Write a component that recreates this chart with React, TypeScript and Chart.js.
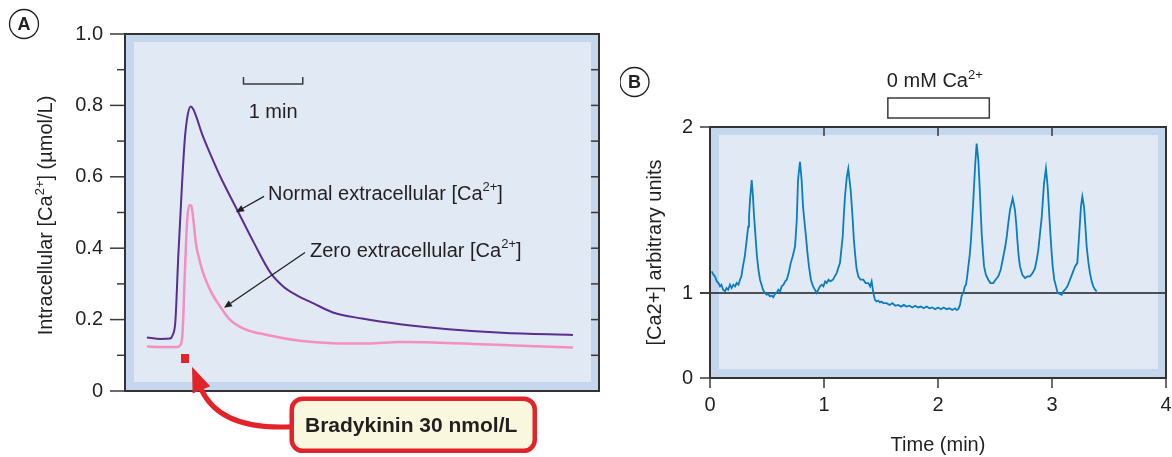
import React, { useEffect, useRef } from 'react';
import { Chart, registerables, LinearScale } from 'chart.js';

Chart.register(...registerables);

const FONT = "'Liberation Sans', Arial, Helvetica, sans-serif";
const TEXT = '#231f20';
const FRAME = '#333333';
const TICK = '#3a3a3a';
const BAND = '#c5d7ec';
const INNER = '#e0e9f4';
const PURPLE = '#5a2d8f';
const PINK = '#f48fbf';
const BLUE = '#0a7cc1';
const RED = '#e2232a';

// ---------- Panel A data (time in min, [Ca2+] in umol/L) ----------
const NORMAL_TIME = [0.37, 0.6, 0.76, 0.8, 0.85, 0.9, 0.96, 1.01, 1.06, 1.11, 1.15, 1.2, 1.3, 1.45, 1.61, 1.9, 2.17, 2.46, 2.67, 2.9, 3.2, 3.51, 4.0, 4.64, 5.46, 6.36, 7.56];
const NORMAL_CA = [0.15, 0.146, 0.147, 0.155, 0.195, 0.38, 0.572, 0.707, 0.775, 0.797, 0.79, 0.77, 0.72, 0.66, 0.6, 0.505, 0.417, 0.33, 0.293, 0.268, 0.244, 0.22, 0.203, 0.187, 0.173, 0.163, 0.157];
const ZERO_TIME = [0.37, 0.6, 0.88, 0.93, 0.97, 1.01, 1.05, 1.09, 1.12, 1.16, 1.2, 1.25, 1.32, 1.44, 1.6, 1.77, 2.0, 2.4, 2.95, 3.51, 4.1, 4.64, 5.2, 6.0, 6.8, 7.56];
const ZERO_CA = [0.125, 0.123, 0.123, 0.128, 0.16, 0.33, 0.48, 0.52, 0.518, 0.47, 0.41, 0.372, 0.33, 0.282, 0.238, 0.2, 0.175, 0.157, 0.141, 0.134, 0.133, 0.137, 0.136, 0.131, 0.126, 0.122];
const A_Y_MIN = 0;
const A_Y_MAX = 1;
const A_X_MIN = 0;
const A_X_MAX = 8;
const SCALE_BAR = { start: 2.0, length: 1, level: 0.86 };
const NORMAL_LABEL = { t: 2.414, v: 0.556 };
const NORMAL_ARROW = { from: [2.346, 0.545], to: [1.873, 0.501] };
const ZERO_LABEL = { t: 3.122, v: 0.396 };
const ZERO_ARROW = { from: [3.038, 0.388], to: [1.671, 0.233] };
const BRADY_MARK = { t: 1.013, v: 0.091 };
const BRADY_BOX = { left: 2.78, right: 6.95, top: -0.016, bottom: -0.173 };
const BRADY_TEXT = { t: 4.83, v: -0.095 };
const BRADY_ARROW = { start: [2.82, -0.1], ctrl: [1.6, -0.111], end: [1.283, 0.006], tip: [1.131, 0.068] };

// ---------- Panel B data (time in min, [Ca2+] arbitrary units) ----------
const B_TIME = [
  0.015, 0.03, 0.044, 0.06, 0.075, 0.088, 0.1, 0.115, 0.132, 0.145, 0.16, 0.175, 0.19, 0.205, 0.22, 0.234, 0.25, 0.263, 0.275, 0.289,
  0.305, 0.322, 0.335, 0.342, 0.351, 0.366, 0.377, 0.385, 0.395, 0.412, 0.425, 0.439, 0.452, 0.465, 0.48, 0.497, 0.51, 0.525, 0.541, 0.555,
  0.57, 0.585, 0.6, 0.615, 0.629, 0.645, 0.66, 0.673, 0.69, 0.708, 0.725, 0.746, 0.761, 0.772, 0.789, 0.804, 0.816, 0.83, 0.842, 0.855,
  0.868, 0.885, 0.904, 0.92, 0.936, 0.95, 0.965, 0.98, 0.995, 1.01, 1.024, 1.04, 1.055, 1.079, 1.095, 1.111, 1.125, 1.14, 1.152, 1.164,
  1.175, 1.184, 1.2, 1.213, 1.224, 1.234, 1.244, 1.252, 1.262, 1.272, 1.285, 1.301, 1.32, 1.345, 1.365, 1.389, 1.405, 1.418, 1.433, 1.447,
  1.46, 1.475, 1.491, 1.505, 1.52, 1.55, 1.575, 1.6, 1.625, 1.65, 1.675, 1.7, 1.725, 1.75, 1.775, 1.8, 1.825, 1.85, 1.875, 1.9,
  1.925, 1.95, 1.975, 2.0, 2.025, 2.05, 2.075, 2.1, 2.125, 2.15, 2.164, 2.178, 2.193, 2.208, 2.222, 2.235, 2.246, 2.256, 2.266, 2.277,
  2.287, 2.3, 2.31, 2.325, 2.339, 2.354, 2.368, 2.383, 2.395, 2.404, 2.42, 2.441, 2.46, 2.485, 2.505, 2.529, 2.55, 2.573, 2.59, 2.603,
  2.62, 2.632, 2.655, 2.675, 2.686, 2.696, 2.708, 2.719, 2.74, 2.763, 2.785, 2.807, 2.83, 2.851, 2.866, 2.88, 2.895, 2.91, 2.93, 2.947,
  2.962, 2.972, 2.982, 2.995, 3.006, 3.02, 3.035, 3.05, 3.07, 3.085, 3.1, 3.114, 3.135, 3.158, 3.18, 3.202, 3.222, 3.239, 3.254, 3.266,
  3.281, 3.293, 3.304, 3.32, 3.333, 3.348, 3.362, 3.378, 3.392,
];
const B_SIGNAL = [
  1.13, 1.11, 1.1, 1.07, 1.06, 1.04, 1.05, 1.02, 1.01, 1.03, 1.02, 1.05, 1.03, 1.05, 1.04, 1.06, 1.05, 1.08, 1.1, 1.16,
  1.22, 1.32, 1.4, 1.46, 1.56, 1.68, 1.58, 1.48, 1.38, 1.22, 1.14, 1.08, 1.05, 1.02, 1.0, 0.98, 0.99, 0.96, 0.97, 0.95,
  0.99, 1.0, 1.02, 1.01, 1.04, 1.05, 1.07, 1.08, 1.12, 1.18, 1.22, 1.28, 1.44, 1.68, 1.79, 1.68, 1.52, 1.42, 1.34, 1.24,
  1.16, 1.08, 1.04, 1.02, 1.0, 1.02, 1.04, 1.05, 1.04, 1.07, 1.06, 1.08, 1.07, 1.08, 1.1, 1.12, 1.15, 1.18, 1.26, 1.34,
  1.48, 1.58, 1.7, 1.75, 1.68, 1.62, 1.52, 1.44, 1.32, 1.24, 1.15, 1.1, 1.08, 1.08, 1.06, 1.06, 1.04, 1.07, 1.0, 0.92,
  0.9, 0.91, 0.89, 0.9, 0.88, 0.88, 0.86, 0.88, 0.85, 0.86, 0.84, 0.86, 0.84, 0.85, 0.83, 0.85, 0.83, 0.84, 0.82, 0.84,
  0.82, 0.83, 0.81, 0.83, 0.81, 0.83, 0.81, 0.82, 0.8, 0.82, 0.8, 0.81, 0.86, 0.97, 1.0, 1.04, 1.05, 1.1, 1.16, 1.22,
  1.3, 1.44, 1.56, 1.76, 1.9, 1.8, 1.6, 1.36, 1.24, 1.16, 1.11, 1.08, 1.06, 1.06, 1.08, 1.1, 1.14, 1.22, 1.28, 1.34,
  1.44, 1.5, 1.57, 1.5, 1.42, 1.32, 1.22, 1.16, 1.11, 1.09, 1.1, 1.1, 1.12, 1.15, 1.2, 1.26, 1.36, 1.46, 1.66, 1.75,
  1.64, 1.52, 1.4, 1.26, 1.16, 1.08, 1.04, 1.0, 0.99, 0.98, 1.01, 1.02, 1.04, 1.08, 1.12, 1.16, 1.18, 1.36, 1.52, 1.58,
  1.52, 1.4, 1.28, 1.18, 1.12, 1.07, 1.04, 1.02, 1.01,
];
const B_X_MIN = 0;
const B_X_MAX = 4;
const B_Y_MIN = 0;
const B_Y_MAX = 2;
const B_BREAK_VALUE = 1; // the printed axis is drawn with 0-1 compressed
const B_BREAK_FRACTION = 85 / 251;
const ZERO_CA_WINDOW = [1.56, 2.45];

class BrokenLinearScale extends LinearScale {
  static id = 'brokenLinear';
  static defaults = LinearScale.defaults;
  getPixelForValue(value: any) {
    if (value === null || value === undefined || isNaN(value)) return NaN;
    const min = (this as any).min;
    const max = (this as any).max;
    let dec;
    if (value <= B_BREAK_VALUE) dec = ((value - min) / (B_BREAK_VALUE - min)) * B_BREAK_FRACTION;
    else dec = B_BREAK_FRACTION + ((value - B_BREAK_VALUE) / (max - B_BREAK_VALUE)) * (1 - B_BREAK_FRACTION);
    return (this as any).getPixelForDecimal(dec);
  }
  getValueForPixel(pixel: number) {
    const dec = (this as any).getDecimalForPixel(pixel);
    const min = (this as any).min;
    const max = (this as any).max;
    if (dec <= B_BREAK_FRACTION) return min + (dec / B_BREAK_FRACTION) * (B_BREAK_VALUE - min);
    return B_BREAK_VALUE + ((dec - B_BREAK_FRACTION) / (1 - B_BREAK_FRACTION)) * (max - B_BREAK_VALUE);
  }
}
Chart.register(BrokenLinearScale as any);

type Seg = { text: string; sup?: boolean };

function drawRich(ctx: CanvasRenderingContext2D, segs: Seg[], x: number, y: number, size: number, align: 'left' | 'center', weight = 'normal') {
  const supSize = Math.round(size * 0.66);
  const fontFor = (s: Seg) => `${weight} ${s.sup ? supSize : size}px ${FONT}`;
  let total = 0;
  const widths = segs.map((s) => {
    ctx.font = fontFor(s);
    const w = ctx.measureText(s.text).width;
    total += w;
    return w;
  });
  let cx = align === 'center' ? x - total / 2 : x;
  ctx.textAlign = 'left';
  ctx.textBaseline = 'alphabetic';
  ctx.fillStyle = TEXT;
  const base = y + size * 0.36;
  segs.forEach((s, i) => {
    ctx.font = fontFor(s);
    ctx.fillText(s.text, cx, s.sup ? base - size * 0.42 : base);
    cx += widths[i];
  });
}

function line(ctx: CanvasRenderingContext2D, x1: number, y1: number, x2: number, y2: number) {
  ctx.beginPath();
  ctx.moveTo(x1, y1);
  ctx.lineTo(x2, y2);
  ctx.stroke();
}

function arrow(ctx: CanvasRenderingContext2D, x1: number, y1: number, x2: number, y2: number, len: number, half: number) {
  const dx = x2 - x1;
  const dy = y2 - y1;
  const d = Math.hypot(dx, dy);
  const ux = dx / d;
  const uy = dy / d;
  const bx = x2 - ux * len;
  const by = y2 - uy * len;
  line(ctx, x1, y1, bx, by);
  ctx.beginPath();
  ctx.moveTo(x2, y2);
  ctx.lineTo(bx - uy * half, by + ux * half);
  ctx.lineTo(bx + uy * half, by - ux * half);
  ctx.closePath();
  ctx.fill();
}

function circleLabel(ctx: CanvasRenderingContext2D, x: number, y: number, letter: string) {
  ctx.save();
  ctx.strokeStyle = TEXT;
  ctx.lineWidth = 1.3;
  ctx.beginPath();
  ctx.arc(x, y, 14.5, 0, Math.PI * 2);
  ctx.stroke();
  ctx.fillStyle = TEXT;
  ctx.font = `bold 18px ${FONT}`;
  ctx.textAlign = 'center';
  ctx.textBaseline = 'middle';
  ctx.fillText(letter, x, y + 1);
  ctx.restore();
}

function drawBands(chart: any) {
  const { ctx, chartArea: a } = chart;
  ctx.save();
  ctx.fillStyle = BAND;
  ctx.fillRect(a.left, a.top, a.right - a.left, a.bottom - a.top);
  ctx.fillStyle = INNER;
  ctx.fillRect(a.left + 9, a.top + 8, a.right - a.left - 17, a.bottom - a.top - 17);
  ctx.restore();
}

const panelAPlugin = {
  id: 'panelA',
  beforeDraw(chart: any) {
    drawBands(chart);
  },
  afterDatasetsDraw(chart: any) {
    const { ctx, chartArea: a, scales } = chart;
    const xs = scales.x;
    const ys = scales.y;
    const P = (t: number, v: number) => [xs.getPixelForValue(t), ys.getPixelForValue(v)];
    ctx.save();
    // frame
    ctx.strokeStyle = FRAME;
    ctx.lineWidth = 2;
    ctx.strokeRect(a.left, a.top, a.right - a.left, a.bottom - a.top);
    // ticks
    ctx.strokeStyle = TICK;
    ctx.lineWidth = 1.5;
    ys.ticks.forEach((tk: any) => {
      const y = ys.getPixelForValue(tk.value);
      const major = Math.round(tk.value * 10) % 2 === 0;
      line(ctx, a.left - (major ? 15 : 8), y, a.left, y);
      if (tk.value > A_Y_MIN + 1e-6 && tk.value < A_Y_MAX - 1e-6) line(ctx, a.right - 8, y, a.right, y);
    });
    // scale bar
    const [sx1, sy] = P(SCALE_BAR.start, SCALE_BAR.level);
    const [sx2] = P(SCALE_BAR.start + SCALE_BAR.length, SCALE_BAR.level);
    ctx.beginPath();
    ctx.moveTo(sx1, sy - 7);
    ctx.lineTo(sx1, sy);
    ctx.lineTo(sx2, sy);
    ctx.lineTo(sx2, sy - 7);
    ctx.stroke();
    drawRich(ctx, [{ text: '1 min' }], (sx1 + sx2) / 2, sy + 27, 20, 'center');
    // labels with arrows
    drawRich(ctx, [{ text: 'Normal extracellular [Ca' }, { text: '2+', sup: true }, { text: ']' }], P(NORMAL_LABEL.t, NORMAL_LABEL.v)[0], P(NORMAL_LABEL.t, NORMAL_LABEL.v)[1], 20, 'left');
    drawRich(ctx, [{ text: 'Zero extracellular [Ca' }, { text: '2+', sup: true }, { text: ']' }], P(ZERO_LABEL.t, ZERO_LABEL.v)[0], P(ZERO_LABEL.t, ZERO_LABEL.v)[1], 20, 'left');
    ctx.strokeStyle = TEXT;
    ctx.fillStyle = TEXT;
    ctx.lineWidth = 1.3;
    let f = P(NORMAL_ARROW.from[0], NORMAL_ARROW.from[1]);
    let t = P(NORMAL_ARROW.to[0], NORMAL_ARROW.to[1]);
    arrow(ctx, f[0], f[1], t[0], t[1], 8, 3.5);
    f = P(ZERO_ARROW.from[0], ZERO_ARROW.from[1]);
    t = P(ZERO_ARROW.to[0], ZERO_ARROW.to[1]);
    arrow(ctx, f[0], f[1], t[0], t[1], 8, 3.5);
    // bradykinin mark
    const m = P(BRADY_MARK.t, BRADY_MARK.v);
    ctx.fillStyle = RED;
    ctx.fillRect(m[0] - 4, m[1] - 4.5, 8, 9);
    ctx.restore();

    // outside the plot: y title, bradykinin box and curved arrow
    ctx.save();
    ctx.translate(a.left - 80, (a.top + a.bottom) / 2 + 3);
    ctx.rotate(-Math.PI / 2);
    drawRich(ctx, [{ text: 'Intracellular [Ca' }, { text: '2+', sup: true }, { text: '] (\u00b5mol/L)' }], 0, 0, 20, 'center');
    ctx.restore();

    ctx.save();
    const s = P(BRADY_ARROW.start[0], BRADY_ARROW.start[1]);
    const c = P(BRADY_ARROW.ctrl[0], BRADY_ARROW.ctrl[1]);
    const e = P(BRADY_ARROW.end[0], BRADY_ARROW.end[1]);
    const tip = P(BRADY_ARROW.tip[0], BRADY_ARROW.tip[1]);
    ctx.strokeStyle = RED;
    ctx.fillStyle = RED;
    ctx.lineWidth = 5;
    ctx.beginPath();
    ctx.moveTo(s[0], s[1]);
    ctx.quadraticCurveTo(c[0], c[1], e[0], e[1]);
    ctx.stroke();
    const dx = tip[0] - e[0];
    const dy = tip[1] - e[1];
    const d = Math.hypot(dx, dy);
    const ux = dx / d;
    const uy = dy / d;
    const bx = tip[0] - ux * 25;
    const by = tip[1] - uy * 25;
    ctx.beginPath();
    ctx.moveTo(tip[0], tip[1]);
    ctx.lineTo(bx - uy * 9.5, by + ux * 9.5);
    ctx.lineTo(bx + uy * 9.5, by - ux * 9.5);
    ctx.closePath();
    ctx.fill();
    const bl = P(BRADY_BOX.left, BRADY_BOX.top);
    const br = P(BRADY_BOX.right, BRADY_BOX.bottom);
    ctx.beginPath();
    (ctx as any).roundRect(bl[0] + 2, bl[1] + 2, br[0] - bl[0] - 4, br[1] - bl[1] - 4, 11);
    ctx.fillStyle = '#f9f8de';
    ctx.fill();
    ctx.lineWidth = 4.5;
    ctx.strokeStyle = RED;
    ctx.stroke();
    const bt = P(BRADY_TEXT.t, BRADY_TEXT.v);
    drawRich(ctx, [{ text: 'Bradykinin 30 nmol/L' }], bt[0], bt[1], 21, 'center', 'bold');
    ctx.restore();

    circleLabel(ctx, 24, 24, 'A');
  },
};

const panelBPlugin = {
  id: 'panelB',
  beforeDraw(chart: any) {
    drawBands(chart);
  },
  beforeDatasetsDraw(chart: any) {
    const { ctx, chartArea: a, scales } = chart;
    const y1 = scales.y.getPixelForValue(B_BREAK_VALUE);
    ctx.save();
    ctx.strokeStyle = '#1e1e1e';
    ctx.lineWidth = 1.3;
    line(ctx, a.left - 10, y1, a.right, y1);
    ctx.restore();
  },
  afterDatasetsDraw(chart: any) {
    const { ctx, chartArea: a, scales } = chart;
    const xs = scales.x;
    const ys = scales.y;
    ctx.save();
    ctx.strokeStyle = FRAME;
    ctx.lineWidth = 2;
    ctx.strokeRect(a.left, a.top, a.right - a.left, a.bottom - a.top);
    ctx.strokeStyle = TICK;
    ctx.lineWidth = 1.5;
    ys.ticks.forEach((tk: any) => {
      const y = ys.getPixelForValue(tk.value);
      line(ctx, a.left - 10, y, a.left, y);
    });
    xs.ticks.forEach((tk: any) => {
      const x = xs.getPixelForValue(tk.value);
      line(ctx, x, a.bottom, x, a.bottom + 10);
      if (tk.value > B_X_MIN && tk.value < B_X_MAX) line(ctx, x, a.top, x, a.top + 9);
    });
    // 0 mM Ca2+ bar
    const x1 = xs.getPixelForValue(ZERO_CA_WINDOW[0]);
    const x2 = xs.getPixelForValue(ZERO_CA_WINDOW[1]);
    ctx.fillStyle = '#ffffff';
    ctx.fillRect(x1, a.top - 29, x2 - x1, 20);
    ctx.strokeStyle = '#3a3a3a';
    ctx.lineWidth = 1.5;
    ctx.strokeRect(x1, a.top - 29, x2 - x1, 20);
    drawRich(ctx, [{ text: '0 mM Ca' }, { text: '2+', sup: true }], x1 - 1, a.top - 47, 20, 'left');
    ctx.restore();
    circleLabel(ctx, 14.5, 82, 'B');
  },
};

export default function App() {
  const refA = useRef<HTMLCanvasElement>(null);
  const refB = useRef<HTMLCanvasElement>(null);

  useEffect(() => {
    const tickFont = { family: FONT, size: 20 };
    const chartA = new Chart(refA.current as HTMLCanvasElement, {
      type: 'line',
      data: {
        datasets: [
          {
            label: 'Normal extracellular [Ca2+]',
            data: NORMAL_TIME.map((t, i) => ({ x: t, y: NORMAL_CA[i] })),
            borderColor: PURPLE,
            borderWidth: 2,
            pointRadius: 0,
            cubicInterpolationMode: 'monotone',
          },
          {
            label: 'Zero extracellular [Ca2+]',
            data: ZERO_TIME.map((t, i) => ({ x: t, y: ZERO_CA[i] })),
            borderColor: PINK,
            borderWidth: 2.5,
            pointRadius: 0,
            cubicInterpolationMode: 'monotone',
          },
        ],
      },
      options: {
        responsive: false,
        animation: false,
        layout: { padding: { top: 22, right: 21, bottom: 66, left: 0 } },
        plugins: { legend: { display: false }, tooltip: { enabled: false } },
        scales: {
          x: { type: 'linear', min: A_X_MIN, max: A_X_MAX, display: false },
          y: {
            type: 'linear',
            min: A_Y_MIN,
            max: A_Y_MAX,
            afterFit: (s: any) => {
              s.width = 125;
            },
            grid: { display: false, drawTicks: false },
            border: { display: false },
            ticks: {
              stepSize: 0.1,
              padding: 22,
              color: TEXT,
              font: tickFont,
              autoSkip: false,
              callback: (v: any) => {
                const k = Math.round(v * 10);
                if (k % 2 !== 0) return '';
                return k === 0 ? '0' : (k / 10).toFixed(1);
              },
            },
          },
        },
      } as any,
      plugins: [panelAPlugin],
    });

    const chartB = new Chart(refB.current as HTMLCanvasElement, {
      type: 'line',
      data: {
        datasets: [
          {
            label: '[Ca2+]',
            data: B_TIME.map((t, i) => ({ x: t, y: B_SIGNAL[i] })),
            borderColor: BLUE,
            borderWidth: 1.8,
            pointRadius: 0,
            tension: 0,
          },
        ],
      },
      options: {
        responsive: false,
        animation: false,
        layout: { padding: { top: 127, right: 6, bottom: 0, left: 0 } },
        plugins: { legend: { display: false }, tooltip: { enabled: false } },
        scales: {
          x: {
            type: 'linear',
            min: B_X_MIN,
            max: B_X_MAX,
            afterFit: (s: any) => {
              s.height = 79;
              s.paddingLeft = 0;
              s.paddingRight = 0;
            },
            grid: { display: false, drawTicks: false },
            border: { display: false },
            ticks: { stepSize: 1, padding: 15, color: TEXT, font: tickFont, maxRotation: 0 },
            title: { display: true, text: 'Time (min)', color: TEXT, font: { family: FONT, size: 20 }, padding: { top: 0, bottom: 0 } },
          },
          y: {
            type: 'brokenLinear',
            min: B_Y_MIN,
            max: B_Y_MAX,
            afterFit: (s: any) => {
              s.width = 90;
            },
            grid: { display: false, drawTicks: false },
            border: { display: false },
            ticks: { stepSize: 1, padding: 17, color: TEXT, font: tickFont },
            title: { display: true, text: '[Ca2+] arbitrary units', color: TEXT, font: { family: FONT, size: 20 }, padding: { top: 23, bottom: 0 } },
          },
        },
      } as any,
      plugins: [panelBPlugin],
    });

    return () => {
      chartA.destroy();
      chartB.destroy();
    };
  }, []);

  return (
    <div style={{ position: 'absolute', left: 0, top: 0, width: 1172, height: 457, background: '#ffffff', overflow: 'hidden' }}>
      <canvas ref={refA} width={620} height={457} style={{ position: 'absolute', left: 0, top: 0, width: 620, height: 457 }} />
      <canvas ref={refB} width={552} height={457} style={{ position: 'absolute', left: 620, top: 0, width: 552, height: 457 }} />
    </div>
  );
}
